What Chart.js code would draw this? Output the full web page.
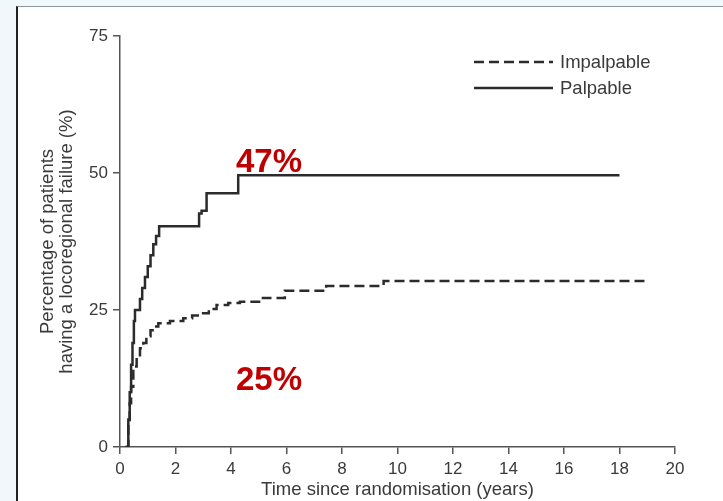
<!DOCTYPE html>
<html>
<head>
<meta charset="utf-8">
<script src="https://cdn.jsdelivr.net/npm/chart.js@4.4.1/dist/chart.umd.min.js"></script>
<style>
  html, body { margin:0; padding:0; overflow:hidden; background:#f0f8fc; }
  #frame { position:absolute; left:16px; top:6px; width:707px; height:495px; box-sizing:border-box;
           background:#fff; border-left:2px solid #222; border-top:1px solid #8a9696; }
  #wrap { position:absolute; left:0; top:0; width:723px; height:501px; }
</style>
</head>
<body>
<div id="frame"></div>
<div id="wrap"><canvas id="myChart"></canvas></div>
<script>
// time in years, % with locoregional failure
var palpableTime  = [0.2, 0.3, 0.35, 0.4, 0.45, 0.5, 0.54, 0.65, 0.72, 0.8, 0.9, 1.0, 1.1, 1.2, 1.3, 1.41, 2.85, 2.94, 3.12, 4.26, 18];
var palpableValue = [0,   5,   10,   15,  19,   23,  25,   25,   27,   29,  31,  33,  35,  37,  38.5, 40.3, 42.6, 43.1, 46.3, 49.6, 49.6];

var impalpableTime  = [0.2, 0.3, 0.35, 0.4, 0.48, 0.6, 0.72, 0.84, 0.95, 1.1, 1.25, 1.38, 1.8, 2.28, 2.6, 2.88, 3.2, 3.48, 3.9, 4.32, 5.15, 5.94, 7.43, 9.5, 18.9];
var impalpableValue = [0,   4,   8,    11,  14.7, 16.5, 18,  19,   20.2, 21.3, 22,  22.6, 23,  23.5, 24,  24.4, 25.2, 25.9, 26.3, 26.5, 27.2, 28.5, 29.4, 30.3, 30.3];

var xTicks = [0, 2, 4, 6, 8, 10, 12, 14, 16, 18, 20];
var yTicks = [0, 25, 50, 75];
var seriesNames = ['Impalpable', 'Palpable'];
var notes = ['47%', '25%'];

function toPoints(t, v) {
  return t.map(function(x, i) { return {x: x, y: v[i]}; });
}

var axisColor = '#555';
var textColor = '#3a3a3a';
var fontFamily = '"Liberation Sans", Arial, sans-serif';

// legend lines and the red notes
var extras = {
  id: 'extras',
  afterDraw: function(chart) {
    var ctx = chart.ctx;
    ctx.save();
    ctx.strokeStyle = '#2b2b2b';
    ctx.lineWidth = 2.5;
    ctx.setLineDash([10, 5]);
    ctx.beginPath(); ctx.moveTo(474, 62); ctx.lineTo(553, 62); ctx.stroke();
    ctx.setLineDash([]);
    ctx.beginPath(); ctx.moveTo(474, 88); ctx.lineTo(553, 88); ctx.stroke();
    ctx.fillStyle = textColor;
    ctx.font = '18.5px ' + fontFamily;
    ctx.textBaseline = 'middle';
    ctx.fillText(seriesNames[0], 560, 63);
    ctx.fillText(seriesNames[1], 560, 89);

    ctx.fillStyle = '#c00000';
    ctx.font = 'bold 33px ' + fontFamily;
    ctx.textBaseline = 'alphabetic';
    ctx.fillText(notes[0], 236, 172);
    ctx.fillText(notes[1], 236, 390);
    ctx.restore();
  }
};

const ctx = document.getElementById('myChart').getContext('2d');
const myChart = new Chart(ctx, {
  type: 'line',
  data: {
    datasets: [{
      label: seriesNames[0],
      data: toPoints(impalpableTime, impalpableValue),
      borderColor: '#2b2b2b',
      borderWidth: 2.5,
      borderDash: [10, 5],
      stepped: true,
      pointRadius: 0,
      fill: false
    }, {
      label: seriesNames[1],
      data: toPoints(palpableTime, palpableValue),
      borderColor: '#2b2b2b',
      borderWidth: 2.5,
      stepped: true,
      pointRadius: 0,
      fill: false
    }]
  },
  options: {
    responsive: true,
    maintainAspectRatio: false,
    animation: false,
    devicePixelRatio: 1,
    layout: { padding: { left: 0, top: 36, right: 48, bottom: 0 } },
    plugins: { legend: { display: false }, tooltip: { enabled: false } },
    scales: {
      x: {
        type: 'linear',
        min: 0, max: 20,
        afterBuildTicks: function(s) { s.ticks = xTicks.map(function(v) { return {value: v}; }); },
        afterFit: function(s) { s.height = 54; },
        ticks: { color: textColor, font: { size: 17, family: fontFamily }, padding: 5, maxRotation: 0 },
        grid: { drawOnChartArea: false, tickLength: 7, color: axisColor, lineWidth: 1.5 },
        border: { color: axisColor, width: 1.5 },
        title: { display: true, text: 'Time since randomisation (years)', color: textColor,
                 font: { size: 18.5, family: fontFamily, lineHeight: '19px' }, padding: { top: 0, bottom: 1.5 } }
      },
      y: {
        min: 0, max: 75,
        afterBuildTicks: function(s) { s.ticks = yTicks.map(function(v) { return {value: v}; }); },
        afterFit: function(s) { s.width = 120; },
        ticks: { color: textColor, font: { size: 17, family: fontFamily }, padding: 5 },
        grid: { drawOnChartArea: false, tickLength: 7, color: axisColor, lineWidth: 1.5 },
        border: { color: axisColor, width: 1.5 },
        title: { display: true, text: ['Percentage of patients', 'having a locoregional failure (%)'], color: textColor,
                 font: { size: 18.5, family: fontFamily, lineHeight: '19px' }, padding: { top: 38.5, bottom: 0 } }
      }
    }
  },
  plugins: [extras]
});
</script>
</body>
</html>
